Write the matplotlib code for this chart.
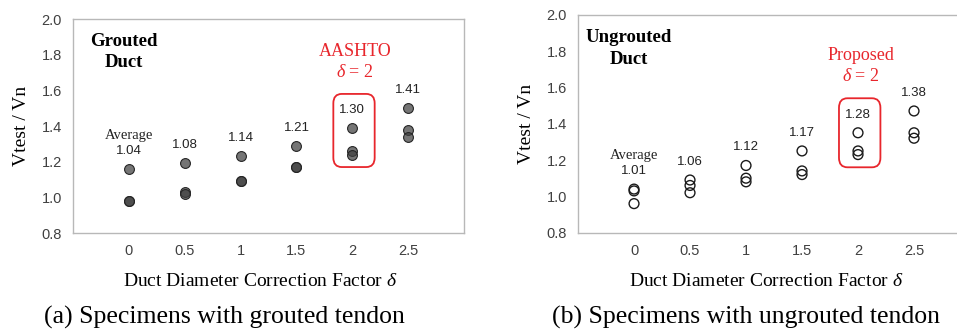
import matplotlib
matplotlib.use("Agg")
import matplotlib.pyplot as plt
from matplotlib.patches import FancyBboxPatch

plt.rcParams['mathtext.fontset'] = 'custom'
plt.rcParams['mathtext.rm'] = 'Liberation Serif'
plt.rcParams['mathtext.it'] = 'Liberation Serif:italic'

# data
delta_labels = ['0', '0.5', '1', '1.5', '2', '2.5']
grouted = [
    [1.16, 0.98, 0.98],
    [1.19, 1.03, 1.02],
    [1.23, 1.09, 1.09],
    [1.29, 1.17, 1.17],
    [1.39, 1.26, 1.24],
    [1.50, 1.38, 1.34],
]
grouted_avg = ['1.04', '1.08', '1.14', '1.21', '1.30', '1.41']
ungrouted = [
    [1.04, 1.03, 0.96],
    [1.09, 1.06, 1.02],
    [1.17, 1.10, 1.08],
    [1.25, 1.14, 1.12],
    [1.35, 1.25, 1.23],
    [1.47, 1.35, 1.32],
]
ungrouted_avg = ['1.01', '1.06', '1.12', '1.17', '1.28', '1.38']
yticks = [0.8, 1.0, 1.2, 1.4, 1.6, 1.8, 2.0]

SERIF = 'Liberation Serif'
SANS = 'Liberation Sans'
RED = '#e8262c'
TICK = '#404040'

fig = plt.figure(figsize=(9.57, 3.31), dpi=100)


def panel(rect, values, avgs, filled, title, code_name, sel=4):
    ax = fig.add_axes(rect)
    for i, vals in enumerate(values):
        xs = [i] * len(vals)
        if filled:
            ax.scatter(xs, vals, s=50, facecolor=(0.25, 0.25, 0.25, 0.72),
                       edgecolor='#262626', linewidth=0.8, zorder=3)
        else:
            ax.scatter(xs, vals, s=50, facecolor='none',
                       edgecolor='#1a1a1a', linewidth=1.0, zorder=3)
        ax.annotate(avgs[i], (i, max(vals)), xytext=(0, 13),
                    textcoords='offset points', ha='center', va='center',
                    fontsize=9.5, family=SANS, color='#222222')
        if i == 0:
            ax.annotate('Average', (i, max(vals)), xytext=(0, 24),
                        textcoords='offset points', ha='center', va='center',
                        fontsize=10.5, family=SERIF, color='#222222')
    ax.set_xlim(-1, 6)
    ax.set_ylim(0.8, 2.0)
    ax.set_xticks(range(len(delta_labels)))
    ax.set_xticklabels(delta_labels)
    ax.set_yticks(yticks)
    ax.set_yticklabels([f'{v:.1f}' for v in yticks])
    ax.tick_params(length=0, labelsize=10.5, colors=TICK)
    ax.tick_params(axis='x', pad=8)
    ax.tick_params(axis='y', pad=8)
    for lab in ax.get_xticklabels() + ax.get_yticklabels():
        lab.set_family(SANS)
    for sp in ax.spines.values():
        sp.set_color('#b8b8b8')
        sp.set_linewidth(1.0)
    ax.set_ylabel('Vtest / Vn', family=SERIF, fontsize=14, labelpad=8)
    ax.set_xlabel(r'Duct Diameter Correction Factor $\delta$', family=SERIF,
                  fontsize=14)
    ax.xaxis.set_label_coords(0.48, -0.185)
    ax.text(0.13, 0.845, title, transform=ax.transAxes, ha='center',
            va='center', family=SERIF, fontweight='bold', fontsize=13.5,
            linespacing=1.35)
    # highlighted delta = 2 group
    lo = min(values[sel]) - 0.07
    hi = max(values[sel]) + 0.19
    box = FancyBboxPatch((sel - 0.34, lo), 0.74, hi - lo,
                         boxstyle='round,pad=0,rounding_size=0.15',
                         mutation_aspect=0.35, fill=False, edgecolor=RED,
                         linewidth=1.3, zorder=4)
    ax.add_patch(box)
    ax.text(sel + 0.05, hi + 0.18, code_name + '\n' + r'$\delta$ = 2',
            ha='center', va='center', color=RED, family=SERIF, fontsize=13,
            linespacing=1.3)
    return ax


panel([0.0763, 0.296, 0.4086, 0.6465], grouted, grouted_avg, True,
      'Grouted\nDuct', 'AASHTO')
panel([0.604, 0.297, 0.4096, 0.6586], ungrouted, ungrouted_avg, False,
      'Ungrouted\nDuct', 'Proposed')

fig.text(0.234, 0.042, '(a) Specimens with grouted tendon', ha='center',
         va='center', family=SERIF, fontsize=18.5)
fig.text(0.78, 0.042, '(b) Specimens with ungrouted tendon', ha='center',
         va='center', family=SERIF, fontsize=18.5)

fig.savefig('out.png', dpi=100)
